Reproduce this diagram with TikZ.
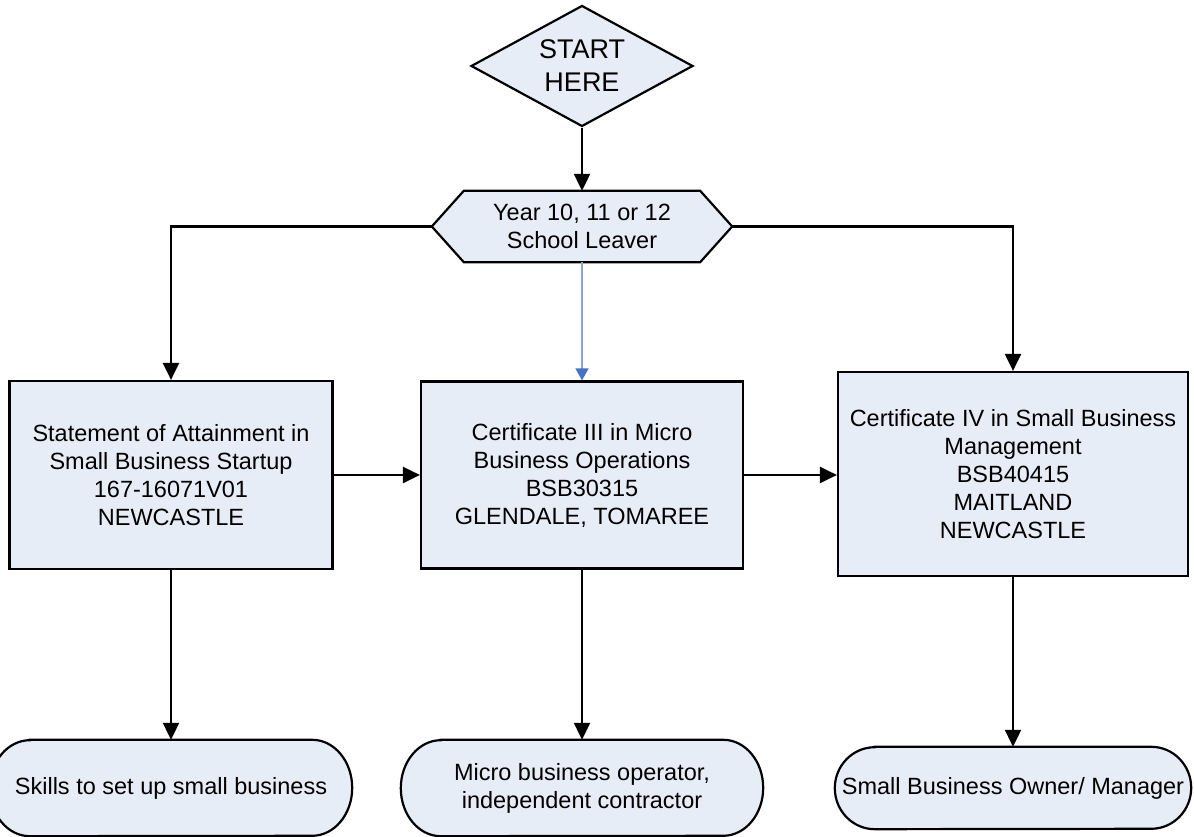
\documentclass[tikz,border=0pt]{standalone}
\usepackage{fontspec}
\setmainfont{Liberation Sans}
\usetikzlibrary{arrows.meta,shapes.geometric}
\definecolor{boxfill}{RGB}{231,237,247}
\definecolor{blueline}{RGB}{135,165,215}
\definecolor{bluehead}{RGB}{68,114,196}
\pgfdeclarelayer{background}
\pgfsetlayers{background,main}
\begin{document}
\begin{tikzpicture}[x=1pt,y=1pt,
  every node/.style={font=\fontsize{23.5}{28}\selectfont, align=center, inner sep=0pt},
  shapeline/.style={draw, line width=2.2pt, fill=boxfill},
  proc/.style={shapeline, rectangle},
  startbox/.style={shapeline, diamond, shape aspect=1.83, font=\fontsize{27}{33}\selectfont},
  plain/.style={draw=none, fill=none},
  conn/.style={line width=2.2pt, -{Triangle[length=17pt,width=16pt]}},
  blueconn/.style={line width=1.4pt, draw=blueline, -{Triangle[length=12pt,width=13pt,fill=bluehead,color=bluehead]}}
]
\useasboundingbox (0,0) rectangle (1194,837);

% start
\node[startbox, minimum width=222, minimum height=121] (start) at (582,771) {START\\HERE};

% hexagon
\node[plain, minimum width=300, minimum height=71] (hex) at (582,610.5) {Year 10, 11 or 12\\School Leaver};
\begin{pgfonlayer}{background}
\draw[shapeline] (hex.west) -- ([xshift=32]hex.north west) -- ([xshift=-32]hex.north east)
  -- (hex.east) -- ([xshift=-32]hex.south east) -- ([xshift=32]hex.south west) -- cycle;
\end{pgfonlayer}

% boxes
\node[proc, minimum width=323, minimum height=188] (b1) at (171,362)
  {Statement of Attainment in\\Small Business Startup\\167-16071V01\\NEWCASTLE};
\node[proc, minimum width=322, minimum height=187] (b2) at (582,362)
  {Certificate III in Micro\\Business Operations\\BSB30315\\GLENDALE, TOMAREE};
\node[proc, minimum width=350, minimum height=204] (b3) at (1013,363)
  {Certificate IV in Small Business\\Management\\BSB40415\\ MAITLAND\\NEWCASTLE};

% terminators
\node[plain, minimum width=362, minimum height=96] (t1) at (171,49) {Skills to set up small business};
\node[plain, minimum width=362, minimum height=96] (t2) at (582,49) {Micro business operator,\\independent contractor};
\node[plain, minimum width=356, minimum height=82] (t3) at (1013,49) {Small Business Owner/ Manager};
\begin{pgfonlayer}{background}
\foreach \n/\r in {t1/48,t2/48,t3/41}{
  \draw[shapeline] ([xshift=40]\n.north west) -- ([xshift=-40]\n.north east)
    arc[start angle=90,end angle=-90,x radius=40,y radius=\r]
    -- ([xshift=40]\n.south west)
    arc[start angle=270,end angle=90,x radius=40,y radius=\r] -- cycle;
}
\end{pgfonlayer}

% connectors
\draw[conn] (start) -- (hex);
\draw[conn] (hex.west) -| (b1.north);
\draw[conn] (hex.east) -| (b3.north);
\draw[blueconn] (hex.south) -- (b2.north);
\draw[conn] (b1.east) -- (b2.west);
\draw[conn] (b2.east) -- (b2.east -| b3.west);
\draw[conn] (b1) -- (t1);
\draw[conn] (b2) -- (t2);
\draw[conn] (b3) -- (t3);
\end{tikzpicture}
\end{document}
